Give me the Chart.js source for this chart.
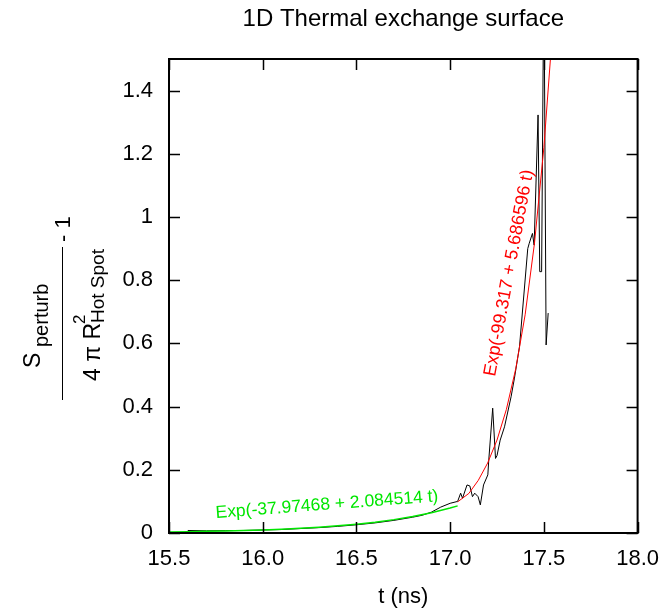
<!DOCTYPE html>
<html>
<head>
<meta charset="utf-8">
<script src="https://cdn.jsdelivr.net/npm/chart.js@4.4.1/dist/chart.umd.min.js"></script>
<style>
  html, body { margin: 0; padding: 0; background: #fff; }
  #wrap { width: 672px; height: 610px; }
</style>
</head>
<body>
<div id="wrap"><canvas id="chart" width="672" height="610"></canvas></div>
<script>
// simulated surface (black)
const surfT = [15.60, 15.70, 15.80, 15.90, 16.00, 16.10, 16.20, 16.30, 16.40, 16.50,
               16.60, 16.70, 16.80, 16.85, 16.90, 16.95, 17.00, 17.04, 17.056, 17.066,
               17.090, 17.105, 17.119, 17.131, 17.149, 17.161, 17.178, 17.201, 17.206, 17.227,
               17.242, 17.250, 17.267, 17.290, 17.325, 17.343, 17.370, 17.414, 17.422, 17.439,
               17.448, 17.469, 17.478, 17.488, 17.500, 17.512, 17.523];
const surfS = [0.008, 0.007, 0.0075, 0.008, 0.0095, 0.011, 0.014, 0.017, 0.021, 0.026,
               0.032, 0.040, 0.050, 0.056, 0.066, 0.082, 0.094, 0.100, 0.126, 0.110,
               0.152, 0.149, 0.115, 0.126, 0.115, 0.089, 0.152, 0.184, 0.231, 0.395,
               0.236, 0.245, 0.294, 0.336, 0.431, 0.490, 0.590, 0.900, 0.917, 0.948,
               0.911, 1.323, 0.827, 0.827, 1.800, 0.595, 0.696];

// slow growth fit (green)
const lowFitT = [15.5, 15.6, 15.7, 15.8, 15.9, 16.0, 16.1, 16.2, 16.3, 16.4,
                 16.5, 16.6, 16.7, 16.8, 16.9, 17.0, 17.04];
const lowFitS = [0.0035, 0.0043, 0.0053, 0.0065, 0.0080, 0.0098, 0.0121, 0.0149, 0.0184, 0.0226,
                 0.0279, 0.0343, 0.0423, 0.0521, 0.0642, 0.0790, 0.0859];

// fast growth fit (red)
const highFitT = [17.04, 17.10, 17.15, 17.20, 17.25, 17.30, 17.35, 17.40, 17.45, 17.50, 17.55];
const highFitS = [0.0985, 0.1254, 0.1666, 0.2214, 0.2942, 0.3911, 0.5197, 0.6905, 0.9176, 1.2194, 1.620];

const xTicks = [15.5, 16.0, 16.5, 17.0, 17.5, 18.0];
const yTicks = [0, 0.2, 0.4, 0.6, 0.8, 1.0, 1.2, 1.4];
const yTickLabels = ['0', '0.2', '0.4', '0.6', '0.8', '1', '1.2', '1.4'];

const FONT = 'Liberation Sans, Arial, Helvetica, sans-serif';

function pairs(xs, ys) {
    return xs.map((x, i) => ({ x: x, y: ys[i] }));
}

// frame + inward ticks on all four sides
const framePlugin = {
    id: 'frame',
    afterDatasetsDraw(chart) {
        const ctx = chart.ctx;
        const a = chart.chartArea;
        const xs = chart.scales.x, ys = chart.scales.y;
        const len = 11;
        ctx.save();
        ctx.strokeStyle = '#000';
        ctx.lineWidth = 1.5;
        ctx.beginPath();
        xs.ticks.forEach(t => {
            const px = Math.round(xs.getPixelForValue(t.value)) + 0.5;
            ctx.moveTo(px, a.bottom); ctx.lineTo(px, a.bottom - len);
            ctx.moveTo(px, a.top); ctx.lineTo(px, a.top + len);
        });
        ys.ticks.forEach(t => {
            const py = Math.round(ys.getPixelForValue(t.value)) + 0.5;
            ctx.moveTo(a.left, py); ctx.lineTo(a.left + len, py);
            ctx.moveTo(a.right, py); ctx.lineTo(a.right - len, py);
        });
        ctx.stroke();
        ctx.lineWidth = 2;
        ctx.strokeRect(a.left, a.top, a.right - a.left, a.bottom - a.top);
        ctx.restore();
    }
};

// fit formulas written along the curves
const notePlugin = {
    id: 'notes',
    afterDatasetsDraw(chart) {
        const ctx = chart.ctx;
        ctx.save();
        ctx.textAlign = 'left';
        ctx.textBaseline = 'alphabetic';

        ctx.save();
        ctx.font = '17.5px ' + FONT;
        ctx.translate(216, 518);
        ctx.rotate(-4.3 * Math.PI / 180);
        ctx.fillStyle = 'rgb(0,230,0)';
        ctx.fillText('Exp(-37.97468 + 2.084514 t)', 0, 0);
        ctx.restore();

        ctx.save();
        ctx.font = '18px ' + FONT;
        ctx.translate(495, 377);
        ctx.rotate(-79.5 * Math.PI / 180);
        ctx.fillStyle = '#ff0000';
        ctx.fillText('Exp(-99.317 + 5.686596 t)', 0, 0);
        ctx.restore();

        ctx.restore();
    }
};

// y axis label: S_perturb / (4 pi R^2_Hot Spot) - 1, rotated
const yTitlePlugin = {
    id: 'ytitle',
    afterDraw(chart) {
        const ctx = chart.ctx;
        function put(text, size, sx, sy) {
            ctx.save();
            ctx.translate(sx, sy);
            ctx.rotate(-Math.PI / 2);
            ctx.font = size + 'px ' + FONT;
            ctx.fillText(text, 0, 0);
            ctx.restore();
        }
        ctx.save();
        ctx.fillStyle = '#000';
        ctx.textAlign = 'left';
        ctx.textBaseline = 'alphabetic';
        put('S', 23, 40, 368);
        put('perturb', 20, 48, 347);
        put('- 1', 22, 70, 242);
        put('4 \u03c0 R', 23, 100, 381);
        put('2', 17, 85, 324);
        put('Hot Spot', 19, 104, 323);
        ctx.strokeStyle = '#000';
        ctx.lineWidth = 1;
        ctx.beginPath();
        ctx.moveTo(62.5, 247);
        ctx.lineTo(62.5, 400);
        ctx.stroke();
        ctx.restore();
    }
};

new Chart(document.getElementById('chart'), {
    type: 'line',
    data: {
        datasets: [
            {
                data: pairs(lowFitT, lowFitS),
                borderColor: 'rgb(0,230,0)',
                borderWidth: 1.5,
                pointRadius: 0,
                tension: 0
            },
            {
                data: pairs(highFitT, highFitS),
                borderColor: '#ff0000',
                borderWidth: 1,
                pointRadius: 0,
                tension: 0
            },
            {
                data: pairs(surfT, surfS),
                borderColor: '#000',
                borderWidth: 1,
                pointRadius: 0,
                tension: 0
            }
        ]
    },
    options: {
        responsive: false,
        animation: false,
        layout: { padding: { left: 0, right: 29, top: 0, bottom: 0 } },
        plugins: {
            legend: { display: false },
            tooltip: { enabled: false },
            title: {
                display: true,
                fullSize: false,
                text: '1D Thermal exchange surface',
                color: '#000',
                font: { family: FONT, size: 24, weight: 'normal' },
                padding: { top: 5, bottom: 25.2 }
            }
        },
        scales: {
            x: {
                type: 'linear',
                min: 15.5,
                max: 18.0,
                afterBuildTicks: s => { s.ticks = xTicks.map(v => ({ value: v })); },
                afterFit: s => { s.height = 77; },
                grid: { display: false, drawTicks: false },
                border: { display: false },
                ticks: {
                    color: '#000',
                    padding: 13,
                    maxRotation: 0,
                    font: { family: FONT, size: 22 },
                    callback: v => v.toFixed(1)
                },
                title: {
                    display: true,
                    text: 't (ns)',
                    color: '#000',
                    font: { family: FONT, size: 22 },
                    padding: { top: 0, bottom: 0 }
                }
            },
            y: {
                type: 'linear',
                min: 0,
                max: 1.5,
                afterBuildTicks: s => { s.ticks = yTicks.map(v => ({ value: v })); },
                afterFit: s => { s.width = 169; },
                grid: { display: false, drawTicks: false },
                border: { display: false },
                ticks: {
                    color: '#000',
                    padding: 16,
                    font: { family: FONT, size: 22 },
                    callback: (v) => yTickLabels[yTicks.findIndex(t => Math.abs(t - v) < 1e-6)]
                }
            }
        }
    },
    plugins: [framePlugin, notePlugin, yTitlePlugin]
});
</script>
</body>
</html>
